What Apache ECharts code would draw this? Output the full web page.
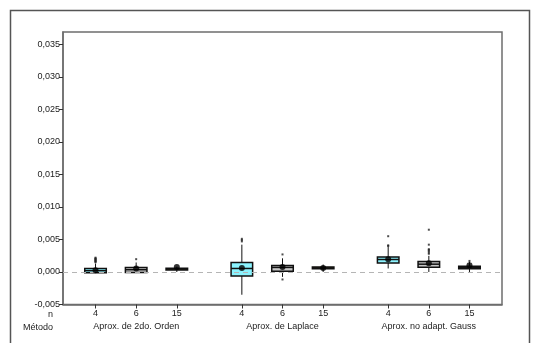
<!DOCTYPE html>
<html>
<head>
<meta charset="utf-8">
<script src="https://cdn.jsdelivr.net/npm/echarts@6/dist/echarts.min.js"></script>
<style>
  html, body { margin: 0; padding: 0; background: #fff; }
  #chart { width: 536px; height: 343px; }
</style>
</head>
<body>
<div id="chart"></div>
<script>
// Groups (method) and sample sizes (n)
const methods = ['Aprox. de 2do. Orden', 'Aprox. de Laplace', 'Aprox. no adapt. Gauss'];
const nLevels = ['4', '6', '15'];

// Box statistics, one entry per (method, n) in reading order
const whiskerLow  = [-0.0001, -0.0001, 0.0000, -0.0035, -0.00075, 0.0000, 0.00054, 0.0000, 0.0000];
const q1Values    = [-0.0001, -0.00008, 0.00032, -0.0006, 0.00012, 0.00048, 0.0014, 0.00074, 0.00048];
const medians     = [0.0002, 0.00035, 0.00045, 0.00054, 0.0007, 0.00063, 0.00192, 0.0012, 0.0007];
const q3Values    = [0.00054, 0.00069, 0.00058, 0.00146, 0.0010, 0.00078, 0.00232, 0.00161, 0.00089];
const whiskerHigh = [0.0013, 0.00146, 0.0008, 0.0042, 0.0021, 0.00115, 0.0039, 0.00248, 0.0016];
const means       = [0.00028, 0.00054, 0.00078, 0.00063, 0.00078, 0.00063, 0.00197, 0.00135, 0.00105];

// Outlying observations: [box index, value]
const outliers = [
  [0, 0.0015], [0, 0.0016], [0, 0.0017], [0, 0.0018], [0, 0.0019], [0, 0.0020], [0, 0.0021], [0, 0.0022],
  [1, 0.00197],
  [3, 0.0047], [3, 0.0049], [3, 0.0051],
  [4, 0.0027], [4, -0.00115],
  [6, 0.0040], [6, 0.0041], [6, 0.0055],
  [7, 0.0028], [7, 0.0030], [7, 0.0032], [7, 0.0034], [7, 0.0035], [7, 0.0042], [7, 0.0065],
  [8, 0.0017]
];

// Reference value shown as a dashed line
const referenceValue = 0.0004;

// Y axis tick values
const yTicks = [-0.005, 0, 0.005, 0.010, 0.015, 0.020, 0.025, 0.030, 0.035];

// Layout of boxes along the x axis: groups separated by a wider gap
const groupStep = 3.6;
const boxWidth = 0.53;
const fills = ['#8cf4ff', '#c6c6c6', '#a07c10'];

const boxPos = [];
const boxLabel = {};
methods.forEach((m, g) => nLevels.forEach((n, k) => {
  const p = +(g * groupStep + k).toFixed(2);
  boxPos.push(p);
  boxLabel[p] = n;
}));
const groupPos = methods.map((m, g) => +(g * groupStep + 1).toFixed(2));
const groupLabel = {};
groupPos.forEach((p, g) => { groupLabel[p] = methods[g]; });

const boxData = boxPos.map((p, i) => [p, whiskerLow[i], q1Values[i], medians[i], q3Values[i], whiskerHigh[i], i % 3]);
const meanData = boxPos.map((p, i) => [p, means[i]]);
const outlierData = outliers.map(o => [boxPos[o[0]], o[1]]);

function renderBox(params, api) {
  const x = api.value(0);
  const lo = api.coord([x, api.value(1)]);
  const q1 = api.coord([x, api.value(2)]);
  const med = api.coord([x, api.value(3)]);
  const q3 = api.coord([x, api.value(4)]);
  const hi = api.coord([x, api.value(5)]);
  const hw = api.size([boxWidth, 0])[0] / 2;
  const fill = fills[api.value(6)];
  return {
    type: 'group',
    children: [
      { type: 'line', shape: { x1: hi[0], y1: hi[1], x2: hi[0], y2: q3[1] }, style: { stroke: '#111', lineWidth: 1 } },
      { type: 'line', shape: { x1: lo[0], y1: q1[1], x2: lo[0], y2: lo[1] }, style: { stroke: '#111', lineWidth: 1 } },
      { type: 'rect', shape: { x: q1[0] - hw, y: q3[1], width: hw * 2, height: Math.max(q1[1] - q3[1], 1) },
        style: { fill: fill, stroke: '#111', lineWidth: 1.5 } },
      { type: 'line', shape: { x1: med[0] - hw, y1: med[1], x2: med[0] + hw, y2: med[1] }, style: { stroke: '#111', lineWidth: 1.5 } }
    ]
  };
}

const fontFamily = 'Liberation Sans, Arial, sans-serif';
const chart = echarts.init(document.getElementById('chart'), null, { renderer: 'canvas' });

chart.setOption({
  animation: false,
  backgroundColor: '#ffffff',
  grid: { left: 63, right: 34, top: 32, bottom: 38.5, show: true, borderColor: '#6e6e6e', borderWidth: 1.5, backgroundColor: '#fff' },
  xAxis: [
    {
      type: 'value', min: -0.8, max: 10.0, position: 'bottom',
      splitLine: { show: false },
      axisLine: { show: true, onZero: false, lineStyle: { color: '#6e6e6e', width: 1.5 } },
      axisTick: { show: true, length: 4, customValues: boxPos, lineStyle: { color: '#333' } },
      axisLabel: { customValues: boxPos, margin: 5, fontSize: 9, color: '#222', fontFamily: fontFamily,
        formatter: v => boxLabel[+v.toFixed(2)] || '' }
    },
    {
      type: 'value', min: -0.8, max: 10.0, position: 'bottom', offset: 13,
      splitLine: { show: false },
      axisLine: { show: false, onZero: false }, axisTick: { show: false },
      axisLabel: { customValues: groupPos, margin: 5, fontSize: 9, color: '#222', fontFamily: fontFamily,
        formatter: v => groupLabel[+v.toFixed(2)] || '' }
    }
  ],
  yAxis: {
    type: 'value', min: -0.005, max: 0.0369,
    splitLine: { show: false },
    axisLine: { show: true, onZero: false, lineStyle: { color: '#6e6e6e', width: 1.5 } },
    axisTick: { show: true, length: 4, customValues: yTicks, lineStyle: { color: '#333' } },
    axisLabel: { customValues: yTicks, margin: 3, fontSize: 9, color: '#222', fontFamily: fontFamily,
      formatter: v => v.toFixed(3).replace('.', ',') }
  },
  graphic: [
    { type: 'rect', left: 8, top: 8, z: -10, shape: { width: 519, height: 345 },
      style: { fill: 'none', stroke: '#555', lineWidth: 1.5 } },
    { type: 'text', x: 53, y: 314.5, style: { text: 'n', fontSize: 9, fill: '#222', fontFamily: fontFamily, align: 'right', verticalAlign: 'middle' } },
    { type: 'text', x: 53, y: 327.5, style: { text: 'Método', fontSize: 9, fill: '#222', fontFamily: fontFamily, align: 'right', verticalAlign: 'middle' } }
  ],
  series: [
    {
      type: 'line', data: [], z: 1,
      markLine: {
        silent: true, symbol: 'none', label: { show: false },
        lineStyle: { color: '#b5b5b5', type: [5, 4], width: 1 },
        data: [{ yAxis: referenceValue }]
      }
    },
    { type: 'custom', renderItem: renderBox, data: boxData, z: 3, encode: { x: 0, y: [1, 2, 3, 4, 5] } },
    { type: 'scatter', data: outlierData, symbol: 'rect', symbolSize: [2, 2], itemStyle: { color: '#222' }, z: 4 },
    { type: 'scatter', data: meanData, symbol: 'circle', symbolSize: 6, itemStyle: { color: '#000' }, z: 5 }
  ]
});
</script>
</body>
</html>
